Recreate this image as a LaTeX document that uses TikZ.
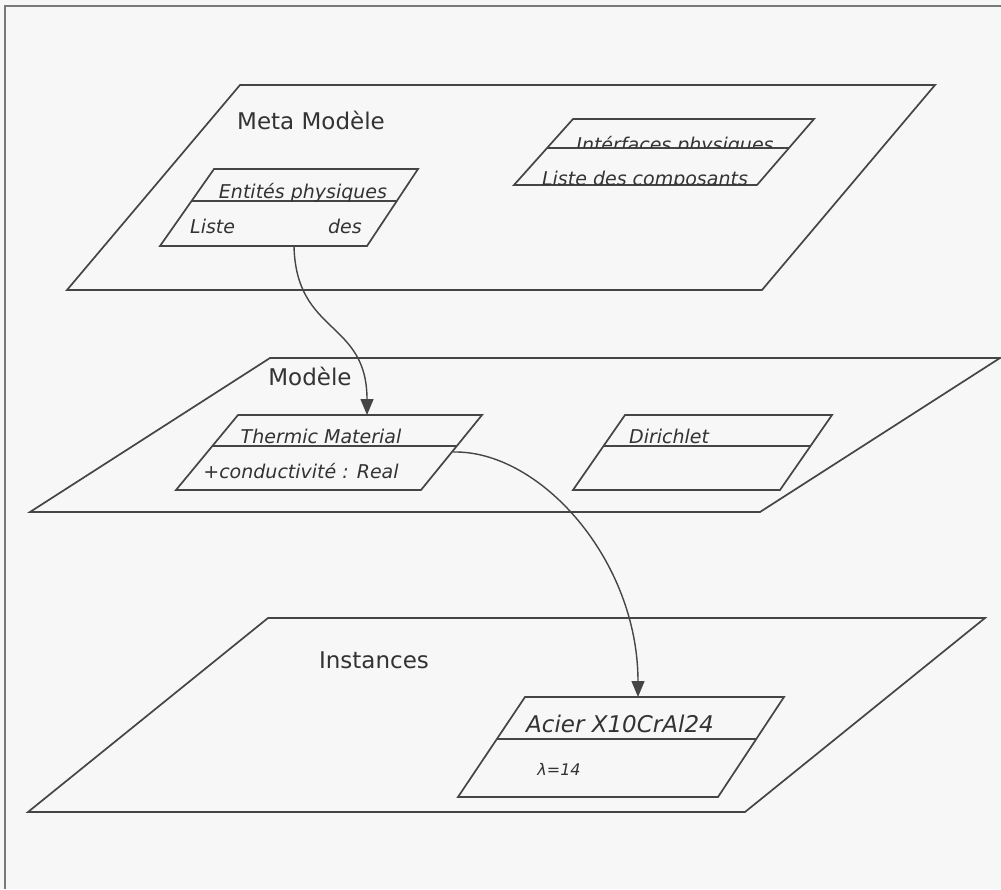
\documentclass[tikz,border=0pt]{standalone}
\usepackage{fontspec}
\setmainfont{DejaVu Sans}
\usetikzlibrary{arrows.meta}
\definecolor{ln}{HTML}{454545}
\definecolor{tx}{HTML}{333333}
\definecolor{bg}{HTML}{F7F7F7}
\definecolor{fr}{HTML}{7A7A7A}
\tikzset{
  plane/.style={draw=ln, line width=1.7pt, line join=miter},
  cls/.style={draw=ln, line width=1.7pt},
  title/.style={text=tx, font=\fontsize{23}{27}\selectfont, inner sep=0pt},
  lbl/.style={text=tx, font=\fontsize{19}{22}\selectfont\itshape, inner sep=0pt, anchor=base},
  link/.style={draw=ln, line width=1.4pt, -{Triangle[length=16pt,width=13pt]}},
  framel/.style={draw=fr, line width=2.4pt}
}
\begin{document}
\begin{tikzpicture}[x=1pt,y=-1pt]
\useasboundingbox (0,0) rectangle (1001,889);
\fill[bg] (0,0) rectangle (1001,889);
\draw[framel] (5,889) -- (5,6) -- (1001,6);

% planes
\draw[plane] (240,85) -- (935,85) -- (762,290) -- (67,290) -- cycle;
\draw[plane] (270,358) -- (1000,358) -- (760,512) -- (30,512) -- cycle;
\draw[plane] (268,618) -- (985,618) -- (745,812) -- (28,812) -- cycle;

\node[title] (metaT) at (311,120) {Meta Modèle};
\node[title] (modT) at (310,376) {Modèle};
\node[title] (instT) at (374,660) {Instances};

% Entites physiques
\draw[cls] (214,169) -- (418,169) -- (367,246) -- (160,246) -- cycle;
\draw[cls] (191,201) -- (397,201);
\node[lbl] (entN) at (303,198) {Entités physiques};
\node[lbl, anchor=base west] (entA1) at (190,233) {Liste};
\node[lbl, anchor=base east] (entA2) at (362,233) {des};

% Interfaces physiques
\draw[cls] (573,119) -- (814,119) -- (757,185) -- (514,185) -- cycle;
\draw[cls] (547,148) -- (789,148);
\begin{scope}
  \clip (500,100) rectangle (830,147);
  \node[lbl] (ifN) at (675,151) {Intérfaces physiques};
\end{scope}
\begin{scope}
  \clip (500,149) rectangle (830,184);
  \node[lbl] (ifA) at (645,185) {Liste des composants};
\end{scope}

% Thermic Material
\draw[cls] (238,415) -- (482,415) -- (421,490) -- (176,490) -- cycle;
\draw[cls] (212,446) -- (457,446);
\node[lbl] (thN) at (321,443) {Thermic Material};
\node[lbl] (thA) at (301,478) {+conductivité : Real};

% Dirichlet
\draw[cls] (625,415) -- (832,415) -- (780,490) -- (573,490) -- cycle;
\draw[cls] (604,446) -- (810,446);
\node[lbl, anchor=base west] (diN) at (629,443) {Dirichlet};

% Acier
\draw[cls] (525,697) -- (784,697) -- (718,797) -- (458,797) -- cycle;
\draw[cls] (497,739) -- (756,739);
\node[lbl, font=\fontsize{23}{27}\selectfont\itshape] (acN) at (620,732) {Acier X10CrAl24};
\node[lbl, font=\fontsize{16}{19}\selectfont\itshape] (acA) at (559,775) {λ=14};

% connectors
\coordinate (entB) at (294,246);
\coordinate (thTop) at (367,415);
\coordinate (thR) at (453,452);
\coordinate (acTop) at (638,697);
\draw[link] (entB) .. controls (296,335) and (367,320) .. (thTop);
\draw[link] (thR) .. controls (540,450) and (638,560) .. (acTop);
\end{tikzpicture}
\end{document}
